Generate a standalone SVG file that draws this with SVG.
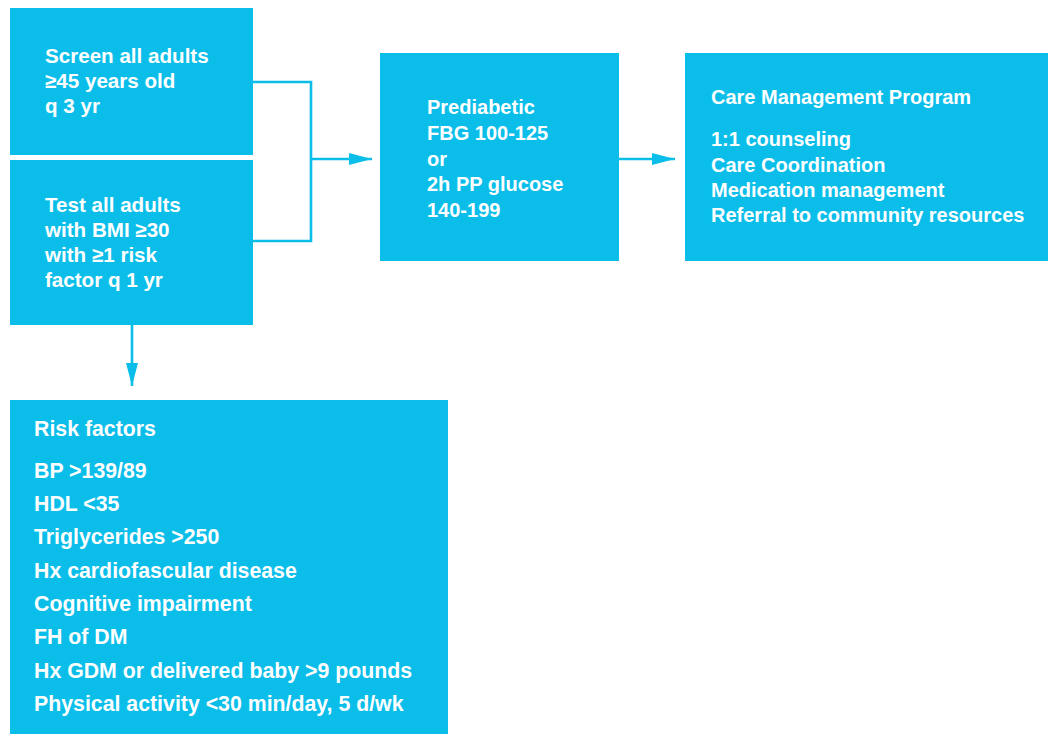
<svg xmlns="http://www.w3.org/2000/svg" width="1048" height="734" viewBox="0 0 1048 734">
<style>
.box{fill:#0BBEEA}
.t{font-family:"Liberation Sans",Arial,sans-serif;font-weight:bold;fill:#ffffff}
.conn{fill:none;stroke:#0BBEEA;stroke-width:2.6}
</style>
<defs>
<marker id="ah" markerUnits="userSpaceOnUse" markerWidth="24" markerHeight="13" refX="23" refY="6.5" orient="auto" viewBox="0 0 24 13">
<path d="M0,0.5 L23,6.5 L0,12.5 z" fill="#0BBEEA"/>
</marker>
</defs>
<rect width="1048" height="734" fill="#ffffff"/>
<g id="connectors">
<path class="conn" d="M253,82 H311 V241 H253"/>
<path class="conn" d="M311,159 H372" marker-end="url(#ah)"/>
<path class="conn" d="M619,159 H675" marker-end="url(#ah)"/>
<path class="conn" d="M132,325 V386" marker-end="url(#ah)"/>
</g>
<g id="screen">
<rect class="box" x="10" y="8" width="243" height="147"/>
<text class="t" font-size="20.6"><tspan x="45" y="63">Screen all adults</tspan><tspan x="45" y="88">≥45 years old</tspan><tspan x="45" y="113">q 3 yr</tspan></text>
</g>
<g id="test">
<rect class="box" x="10" y="160" width="243" height="165"/>
<text class="t" font-size="20.6"><tspan x="45" y="212">Test all adults</tspan><tspan x="45" y="237">with BMI ≥30</tspan><tspan x="45" y="262">with ≥1 risk</tspan><tspan x="45" y="287">factor q 1 yr</tspan></text>
</g>
<g id="prediabetic">
<rect class="box" x="380" y="53" width="239" height="208"/>
<text class="t" font-size="20"><tspan x="427" y="114">Prediabetic</tspan><tspan x="427" y="140">FBG 100-125</tspan><tspan x="427" y="166">or</tspan><tspan x="427" y="191">2h PP glucose</tspan><tspan x="427" y="217">140-199</tspan></text>
</g>
<g id="care">
<rect class="box" x="685" y="53" width="363" height="208"/>
<text class="t" font-size="20"><tspan x="711" y="104">Care Management Program</tspan><tspan x="711" y="146">1:1 counseling</tspan><tspan x="711" y="171.5">Care Coordination</tspan><tspan x="711" y="197">Medication management</tspan><tspan x="711" y="222">Referral to community resources</tspan></text>
</g>
<g id="risk">
<rect class="box" x="10" y="400" width="438" height="334"/>
<text class="t" font-size="21.3"><tspan x="34" y="436">Risk factors</tspan><tspan x="34" y="478">BP &gt;139/89</tspan><tspan x="34" y="511">HDL &lt;35</tspan><tspan x="34" y="544">Triglycerides &gt;250</tspan><tspan x="34" y="578">Hx cardiofascular disease</tspan><tspan x="34" y="611">Cognitive impairment</tspan><tspan x="34" y="644">FH of DM</tspan><tspan x="34" y="678">Hx GDM or delivered baby &gt;9 pounds</tspan><tspan x="34" y="711">Physical activity &lt;30 min/day, 5 d/wk</tspan></text>
</g>
</svg>
